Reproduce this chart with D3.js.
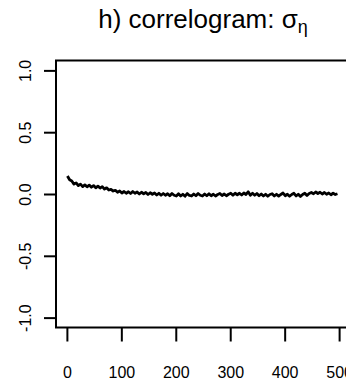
<!DOCTYPE html>
<html>
<head>
<meta charset="utf-8">
<script src="https://cdn.jsdelivr.net/npm/d3@7"></script>
<style>
  html, body { margin: 0; padding: 0; background: #fff; }
  svg { display: block; font-family: "Liberation Sans", Arial, Helvetica, sans-serif; }
</style>
</head>
<body>
<svg id="chart" width="346" height="383"></svg>
<script>
// autocorrelation of sigma_eta draws, one value every 4 lags starting at lag 1
const lagStart = 1, lagStep = 4;
const acfValues = [
  0.145, 0.115, 0.105, 0.08, 0.09, 0.068, 0.08, 0.06, 0.074, 0.058,
  0.072, 0.055, 0.068, 0.05, 0.064, 0.048, 0.06, 0.04, 0.05, 0.032,
  0.038, 0.024, 0.03, 0.014, 0.024, 0.008, 0.02, 0.006, 0.018, 0.004,
  0.02, 0.006, 0.016, 0.0, 0.014, 0.002, 0.012, -0.004, 0.01, -0.002,
  0.008, -0.008, 0.006, -0.01, 0.004, -0.01, 0.002, -0.014, 0.004, -0.01,
  -0.016, 0.002, -0.016, -0.002, -0.018, 0.004, -0.012, -0.016, 0.0, -0.014,
  0.004, -0.01, -0.016, 0.0, -0.014, 0.002, -0.014, -0.002, -0.016, -0.004,
  0.004, -0.012, 0.0, -0.014, -0.002, 0.006, -0.01, 0.006, -0.006, 0.006,
  -0.008, 0.008, -0.004, 0.018, -0.01, 0.006, -0.01, 0.004, -0.014, 0.0,
  -0.016, -0.002, -0.018, -0.004, 0.002, -0.016, -0.002, -0.017, -0.004, 0.008,
  -0.014, -0.002, -0.018, -0.004, 0.006, -0.016, -0.002, -0.02, -0.004, 0.006,
  -0.012, 0.004, 0.012, 0.002, 0.016, 0.004, 0.014, 0.0, 0.012, -0.002,
  0.008, -0.006, 0.006, -0.004, 0.002
];
const xTicks = [0, 100, 200, 300, 400, 500];
const yTicks = [-1, -0.5, 0, 0.5, 1];

const svg = d3.select("#chart");

const x = d3.scaleLinear().domain([-20, 520]).range([56, 350]);
const y = d3.scaleLinear().domain([-1.08, 1.08]).range([327.5, 60.5]);

// title
const title = svg.append("text")
    .attr("x", 203)
    .attr("y", 28)
    .attr("text-anchor", "middle")
    .attr("font-size", 26)
    .attr("fill", "#000");
title.append("tspan").text("h) correlogram: σ");
title.append("tspan").attr("font-size", 18).attr("dy", 5).text("η");

// plot frame
svg.append("rect")
    .attr("x", x.range()[0])
    .attr("y", y.range()[1])
    .attr("width", x.range()[1] - x.range()[0])
    .attr("height", y.range()[0] - y.range()[1])
    .attr("fill", "none")
    .attr("stroke", "#000")
    .attr("stroke-width", 2);

// y axis, labels rotated like R
const yAxis = svg.append("g")
    .attr("transform", `translate(${x.range()[0]},0)`)
    .call(d3.axisLeft(y).tickValues(yTicks).tickSize(12).tickSizeOuter(0)
        .tickFormat(d => d.toFixed(1)));
yAxis.select(".domain").remove();
yAxis.selectAll(".tick line").attr("stroke-width", 2);
yAxis.selectAll(".tick text")
    .attr("x", null).attr("dy", null)
    .attr("transform", `translate(${31 - x.range()[0]},0) rotate(-90)`)
    .attr("text-anchor", "middle")
    .attr("font-size", 16)
    .attr("font-family", null);

// x axis
const xAxis = svg.append("g")
    .attr("transform", `translate(0,${y.range()[0]})`)
    .call(d3.axisBottom(x).tickValues(xTicks).tickSize(14).tickSizeOuter(0)
        .tickFormat(d => d));
xAxis.select(".domain").remove();
xAxis.selectAll(".tick line").attr("stroke-width", 2);
xAxis.selectAll(".tick text")
    .attr("y", 50.5).attr("dy", null)
    .attr("font-size", 16)
    .attr("font-family", null);

// correlogram line
const line = d3.line()
    .x((d, i) => x(lagStart + i * lagStep))
    .y(d => y(d));

svg.append("path")
    .datum(acfValues)
    .attr("d", line)
    .attr("fill", "none")
    .attr("stroke", "#000")
    .attr("stroke-width", 2.8)
    .attr("stroke-linejoin", "round");
</script>
</body>
</html>
